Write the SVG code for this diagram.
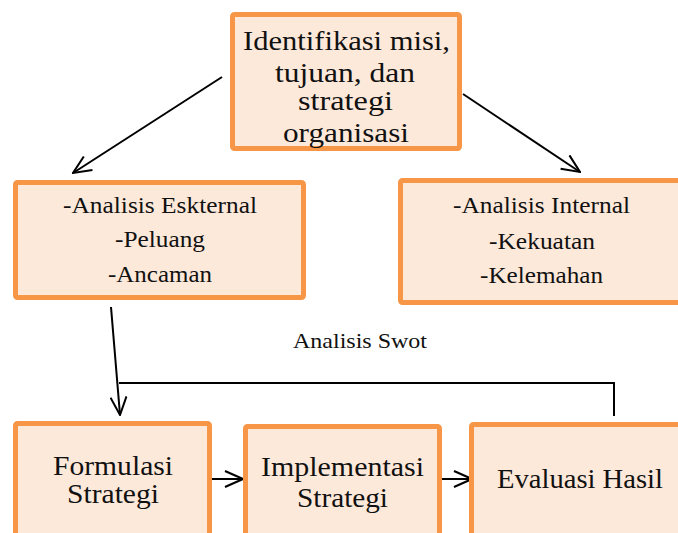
<svg xmlns="http://www.w3.org/2000/svg" width="678" height="533" viewBox="0 0 678 533">
  <style>
    .box { fill: #FDE9DA; stroke: #F79646; stroke-width: 5; }
    .t { font-family: "Liberation Serif", "Times New Roman", serif; fill: #111; text-anchor: middle; }
    .line { fill: none; stroke: #000; stroke-width: 2; }
  </style>
  <defs>
    <marker id="arr" viewBox="0 0 20 18" markerWidth="20" markerHeight="18" refX="19" refY="9" orient="auto" markerUnits="userSpaceOnUse">
      <path d="M1,1 L19,9 L1,17" fill="none" stroke="#000" stroke-width="2"/>
    </marker>
  </defs>
  <rect width="678" height="533" fill="#fff"/>

  <g id="connectors">
    <line class="line" x1="222" y1="77" x2="73" y2="173" marker-end="url(#arr)"/>
    <line class="line" x1="463" y1="94" x2="580" y2="172" marker-end="url(#arr)"/>
    <line class="line" x1="111" y1="307" x2="120" y2="415" marker-end="url(#arr)"/>
    <polyline class="line" points="119,383 614,383 614,416"/>
    <line class="line" x1="210" y1="479" x2="243" y2="479" marker-end="url(#arr)"/>
    <line class="line" x1="441" y1="479" x2="472" y2="479" marker-end="url(#arr)"/>
  </g>

  <g id="node-identifikasi">
    <rect class="box" x="232.5" y="14.5" width="227" height="134" rx="2"/>
    <text class="t" font-size="28" x="346.5" y="50" textLength="207" lengthAdjust="spacingAndGlyphs">Identifikasi misi,</text>
    <text class="t" font-size="28" x="345" y="82" textLength="140" lengthAdjust="spacingAndGlyphs">tujuan, dan</text>
    <text class="t" font-size="28" x="345.5" y="110" textLength="95" lengthAdjust="spacingAndGlyphs">strategi</text>
    <text class="t" font-size="28" x="346" y="142" textLength="126" lengthAdjust="spacingAndGlyphs">organisasi</text>
  </g>

  <g id="node-eksternal">
    <rect class="box" x="15.5" y="182.5" width="288" height="115" rx="2"/>
    <text class="t" font-size="24" x="160" y="213" textLength="194" lengthAdjust="spacingAndGlyphs">-Analisis Eskternal</text>
    <text class="t" font-size="24" x="160" y="247" textLength="90" lengthAdjust="spacingAndGlyphs">-Peluang</text>
    <text class="t" font-size="24" x="160" y="282" textLength="104" lengthAdjust="spacingAndGlyphs">-Ancaman</text>
  </g>

  <g id="node-internal">
    <rect class="box" x="400.5" y="180.5" width="290" height="122" rx="2"/>
    <text class="t" font-size="24" x="541.5" y="213" textLength="177" lengthAdjust="spacingAndGlyphs">-Analisis Internal</text>
    <text class="t" font-size="24" x="542" y="249" textLength="106" lengthAdjust="spacingAndGlyphs">-Kekuatan</text>
    <text class="t" font-size="24" x="541.5" y="283" textLength="123" lengthAdjust="spacingAndGlyphs">-Kelemahan</text>
  </g>

  <g id="label-swot">
    <text class="t" font-size="22" x="360" y="348" textLength="134" lengthAdjust="spacingAndGlyphs">Analisis Swot</text>
  </g>

  <g id="node-formulasi">
    <rect class="box" x="15.5" y="423.5" width="194" height="130" rx="2"/>
    <text class="t" font-size="28" x="113" y="475" textLength="120" lengthAdjust="spacingAndGlyphs">Formulasi</text>
    <text class="t" font-size="28" x="113" y="503" textLength="92" lengthAdjust="spacingAndGlyphs">Strategi</text>
  </g>

  <g id="node-implementasi">
    <rect class="box" x="245.5" y="426.5" width="194" height="130" rx="2"/>
    <text class="t" font-size="28" x="342.5" y="476" textLength="163" lengthAdjust="spacingAndGlyphs">Implementasi</text>
    <text class="t" font-size="28" x="342.5" y="507" textLength="91" lengthAdjust="spacingAndGlyphs">Strategi</text>
  </g>

  <g id="node-evaluasi">
    <rect class="box" x="471.5" y="424.5" width="230" height="130" rx="2"/>
    <text class="t" font-size="28" x="580" y="488" textLength="166" lengthAdjust="spacingAndGlyphs">Evaluasi Hasil</text>
  </g>
</svg>
